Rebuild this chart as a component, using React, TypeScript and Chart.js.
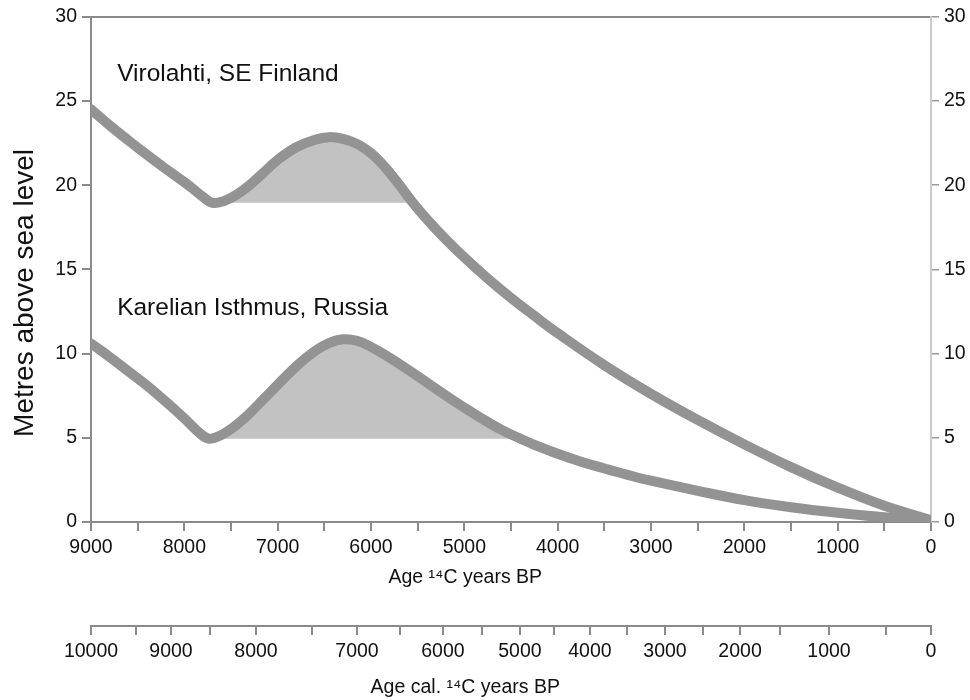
import React, { useEffect, useRef } from 'react';
import { Chart, registerables } from 'chart.js';

Chart.register(...registerables);

// ---- Data ----
const virolahtiYears = [9000, 8800, 8600, 8400, 8200, 8000, 7900, 7800, 7700, 7580, 7450, 7300, 7150, 7000, 6800, 6600, 6450, 6300, 6150, 6000, 5850, 5700, 5550, 5400, 5200, 5000, 4750, 4500, 4250, 4000, 3500, 3000, 2500, 2000, 1500, 1000, 500, 0];
const virolahtiLevels = [24.5, 23.55, 22.66, 21.8, 20.97, 20.18, 19.75, 19.3, 18.95, 19.05, 19.4, 20.0, 20.75, 21.5, 22.25, 22.7, 22.85, 22.75, 22.45, 21.9, 21.07, 20.04, 18.95, 17.97, 16.79, 15.71, 14.46, 13.31, 12.24, 11.21, 9.31, 7.61, 6.06, 4.61, 3.26, 2.04, 0.96, 0.1];
const virolahtiBase = 18.95;

const karelianYears = [9000, 8800, 8600, 8400, 8200, 8000, 7860, 7740, 7620, 7480, 7320, 7150, 7000, 6800, 6600, 6450, 6300, 6150, 6000, 5800, 5600, 5400, 5200, 5000, 4800, 4600, 4400, 4200, 4000, 3750, 3500, 3250, 3000, 2500, 2000, 1500, 1000, 500, 0];
const karelianLevels = [10.6, 9.8, 8.95, 8.1, 7.15, 6.15, 5.4, 4.95, 5.12, 5.6, 6.35, 7.3, 8.15, 9.25, 10.15, 10.62, 10.85, 10.76, 10.4, 9.75, 9.03, 8.28, 7.52, 6.79, 6.1, 5.47, 4.95, 4.47, 4.05, 3.58, 3.18, 2.8, 2.45, 1.85, 1.3, 0.88, 0.55, 0.28, 0.05];
const karelianBase = 4.95;

// 14C-axis ticks (every 500 years, labels every 1000)
const c14Ticks = [9000, 8500, 8000, 7500, 7000, 6500, 6000, 5500, 5000, 4500, 4000, 3500, 3000, 2500, 2000, 1500, 1000, 500, 0];
// calibrated axis: label and its position expressed in 14C years
const calTickLabels = [10000, 9500, 9000, 8500, 8000, 7500, 7000, 6500, 6000, 5500, 5000, 4500, 4000, 3500, 3000, 2500, 2000, 1500, 1000, 500, 0];
const calTickPos14C = [9000, 8518, 8143, 7725, 7232, 6632, 6150, 5689, 5229, 4811, 4404, 4039, 3654, 3257, 2850, 2443, 2046, 1618, 1093, 482, 0];

const regionNames = ['Virolahti, SE Finland', 'Karelian Isthmus, Russia'];
const regionLabelYear = [8720, 8720];
const regionLabelLevel = [26.2, 12.3];

const axisTitles = ['Age ¹⁴C years BP', 'Age cal. ¹⁴C years BP'];
const axisTitleCenterYear = 4990;
const yTitle = 'Metres above sea level';
const yTitleCenterLevel = 13.6;

const FONT = '"Liberation Sans", Arial, Helvetica, sans-serif';

function toPoints(xs: number[], ys: number[]) {
  return xs.map((x, i) => ({ x, y: ys[i] }));
}

function humpPoints(xs: number[], ys: number[], base: number) {
  const start = ys.findIndex((v) => v <= base);
  let end = start + 1;
  while (end < ys.length && ys[end] > base) end++;
  return toPoints(xs.slice(start, end + 1), ys.slice(start, end + 1));
}

const textPlugin = {
  id: 'textPlugin',
  afterDraw(chart: any) {
    const { ctx, scales } = chart;
    const x = scales.x;
    const x2 = scales.x2;
    const y = scales.y;
    ctx.save();
    ctx.fillStyle = '#111';
    // region labels
    ctx.font = `24.5px ${FONT}`;
    ctx.textBaseline = 'alphabetic';
    ctx.textAlign = 'left';
    regionNames.forEach((t, i) => {
      ctx.fillText(t, x.getPixelForValue(regionLabelYear[i]), y.getPixelForValue(regionLabelLevel[i]));
    });
    // x axis titles
    ctx.font = `19.5px ${FONT}`;
    ctx.textAlign = 'center';
    ctx.textBaseline = 'middle';
    const cx = x.getPixelForValue(axisTitleCenterYear);
    ctx.fillText(axisTitles[0], cx, x.bottom - 48);
    ctx.fillText(axisTitles[1], cx, x2.bottom - 12);
    // y axis title
    ctx.save();
    ctx.translate(y.left + 33, y.getPixelForValue(yTitleCenterLevel));
    ctx.rotate(-Math.PI / 2);
    ctx.font = `28px ${FONT}`;
    ctx.textAlign = 'center';
    ctx.textBaseline = 'alphabetic';
    ctx.fillText(yTitle, 0, 0);
    ctx.restore();
    ctx.restore();
  },
};

export default function App() {
  const ref = useRef<HTMLCanvasElement | null>(null);

  useEffect(() => {
    document.body.style.margin = '0';
    const canvas = ref.current;
    if (!canvas) return;
    Chart.defaults.font.family = FONT;

    const lineColor = '#939393';
    const fillColor = '#c2c2c2';
    const axisColor = '#8a8a8a';
    const tickFont = { size: 19.5 };

    const lineDs = (xs: number[], ys: number[]) => ({
      data: toPoints(xs, ys),
      borderColor: lineColor,
      borderWidth: 10,
      borderCapStyle: 'round',
      borderJoinStyle: 'round',
      pointRadius: 0,
      fill: false,
      tension: 0.4,
      order: 1,
    });
    const humpDs = (xs: number[], ys: number[], base: number) => ({
      data: humpPoints(xs, ys, base),
      borderWidth: 0,
      pointRadius: 0,
      backgroundColor: fillColor,
      fill: { value: base },
      tension: 0.4,
      order: 3,
    });

    const chart = new Chart(canvas, {
      type: 'line',
      data: {
        datasets: [
          humpDs(virolahtiYears, virolahtiLevels, virolahtiBase),
          humpDs(karelianYears, karelianLevels, karelianBase),
          lineDs(virolahtiYears, virolahtiLevels),
          lineDs(karelianYears, karelianLevels),
        ] as any,
      },
      options: {
        responsive: false,
        animation: false,
        events: [],
        layout: { padding: { top: 16, left: 0, right: 0, bottom: 0 } },
        plugins: { legend: { display: false }, tooltip: { enabled: false } },
        scales: {
          x: {
            type: 'linear',
            position: 'bottom',
            weight: 0,
            min: 0,
            max: 9000,
            reverse: true,
            afterFit: (s: any) => { s.height = 104; },
            afterBuildTicks: (s: any) => { s.ticks = c14Ticks.map((v) => ({ value: v })); },
            ticks: {
              autoSkip: false,
              maxRotation: 0,
              padding: 5,
              color: '#111',
              font: tickFont,
              callback: (v: any) => (Number(v) % 1000 === 0 ? String(v) : ''),
            },
            grid: { drawOnChartArea: false, drawTicks: true, tickLength: 9, color: axisColor, lineWidth: 2 },
            border: { display: true, color: axisColor, width: 2 },
          },
          x2: {
            type: 'linear',
            position: 'bottom',
            weight: 1,
            min: 0,
            max: 9000,
            reverse: true,
            afterFit: (s: any) => { s.height = 74; },
            afterBuildTicks: (s: any) => { s.ticks = calTickPos14C.map((v) => ({ value: v })); },
            ticks: {
              autoSkip: false,
              maxRotation: 0,
              padding: 5,
              color: '#111',
              font: tickFont,
              callback: (_v: any, i: number) => (calTickLabels[i] % 1000 === 0 ? String(calTickLabels[i]) : ''),
            },
            grid: { drawOnChartArea: false, drawTicks: true, tickLength: 9, color: axisColor, lineWidth: 2 },
            border: { display: true, color: axisColor, width: 2 },
          },
          xTop: {
            type: 'linear',
            position: 'top',
            min: 0,
            max: 9000,
            reverse: true,
            afterFit: (s: any) => { s.height = 0; },
            ticks: { display: false },
            grid: { display: false, drawTicks: false },
            border: { display: true, color: axisColor, width: 2 },
          },
          y: {
            type: 'linear',
            position: 'left',
            min: 0,
            max: 30,
            afterFit: (s: any) => { s.width = 91; },
            ticks: { stepSize: 5, padding: 5, color: '#111', font: tickFont },
            grid: { drawOnChartArea: false, drawTicks: true, tickLength: 9, color: axisColor, lineWidth: 2 },
            border: { display: true, color: axisColor, width: 2 },
          },
          y2: {
            type: 'linear',
            position: 'right',
            min: 0,
            max: 30,
            afterFit: (s: any) => { s.width = 39; },
            ticks: { stepSize: 5, padding: 5, color: '#111', font: tickFont },
            grid: { drawOnChartArea: false, drawTicks: true, tickLength: 8, color: '#9a9a9a', lineWidth: 1.5 },
            border: { display: true, color: '#cccccc', width: 2 },
          },
        } as any,
      },
      plugins: [textPlugin],
    });

    return () => chart.destroy();
  }, []);

  return <canvas ref={ref} width={970} height={700} style={{ display: 'block' }} />;
}
